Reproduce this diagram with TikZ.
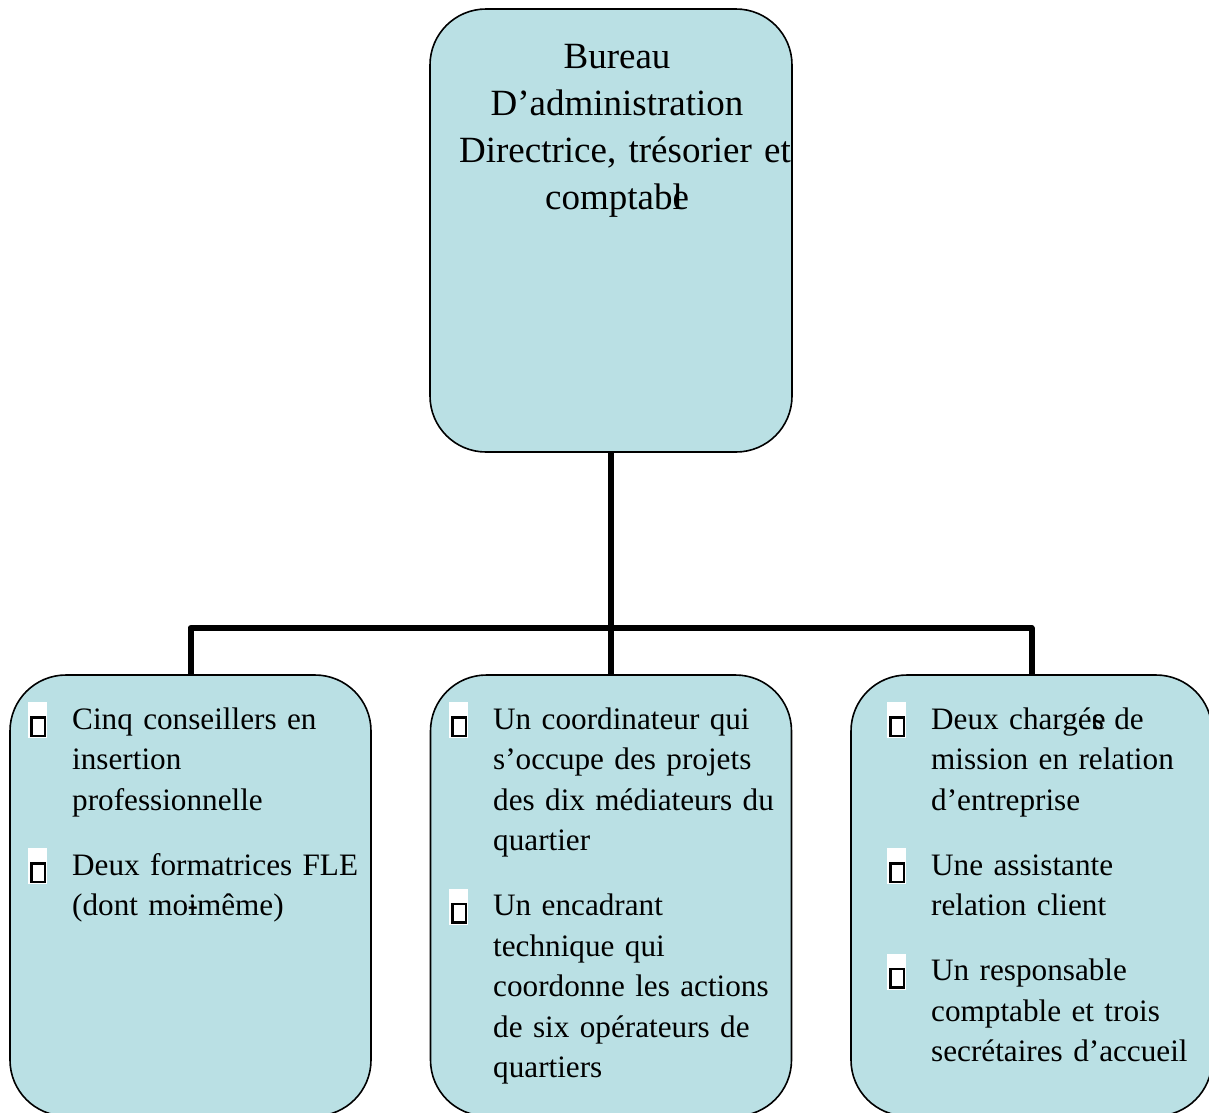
\documentclass[tikz,border=0pt]{standalone}
\usepackage{fontspec}
\setmainfont{Liberation Serif}

\definecolor{bleuboite}{RGB}{186,224,228}

% petite puce carree sur fond blanc
\newcommand{\puce}{\rlap{\textcolor{white}{\rule[-9pt]{19pt}{36pt}}}\hspace*{2pt}{\setlength{\fboxsep}{0pt}\setlength{\fboxrule}{2.5pt}\raisebox{-5.5pt}{\fbox{\rule{0pt}{16pt}\hspace*{11pt}}}}}
\newcommand{\entree}[1]{\hangindent=44pt\hangafter=1\noindent\makebox[44pt][l]{\puce}#1\par}

\begin{document}
\begin{tikzpicture}[x=1pt, y=-1pt,
    boite/.style={draw, line width=1.6pt, fill=bleuboite, rounded corners=56pt, inner sep=0pt},
    titre/.style={font={\fontsize{37}{47}\selectfont}, text width=360pt, align=center, inner sep=0pt},
    texte/.style={font={\fontsize{31.2}{40.5}\selectfont}, text width=345pt, inner sep=0pt,
        execute at begin node={\raggedright\setlength{\parskip}{24.5pt}}},
    lien/.style={line width=6pt, line join=round}]
    \useasboundingbox (0,0) rectangle (1209,1112);

    % Boites
    \node [boite, minimum width=362pt, minimum height=443pt] (haut) at (611,230.5) {};
    \node [boite, minimum width=361pt, minimum height=441pt] (gauche) at (190.5,895.5) {};
    \node [boite, minimum width=361pt, minimum height=441pt] (milieu) at (611,895.5) {};
    \node [boite, minimum width=361pt, minimum height=441pt] (droite) at (1031.5,895.5) {};

    % Liaisons
    \coordinate (jonction) at (611,628);
    \draw [lien] (haut.south) -- (milieu.north);
    \draw [lien] (gauche.north) |- (jonction) -| (droite.north);

    % Textes
    \node [titre, anchor=base] (texteH) at (617,68)
        {Bureau\\ D’administration\\ \hspace*{16pt}Directrice, trésorier et\\ comptab\rlap{l}e};
    \node [texte, anchor=base west] (texteG) at (28,729) {%
        \entree{Cinq conseillers en\newline insertion\newline professionnelle}
        \entree{Deux formatrices FLE\newline (dont mo\rlap{\kern-0.02em-}imême)}};
    \node [texte, anchor=base west] (texteM) at (449,729) {%
        \entree{Un coordinateur qui\newline s’occupe des projets\newline des dix médiateurs du\newline quartier}
        \entree{Un encadrant\newline technique qui\newline coordonne les actions\newline de six opérateurs de\newline quartiers}};
    \node [texte, anchor=base west] (texteD) at (887,729) {%
        \entree{Deux chargé\rlap{e}s de\newline mission en relation\newline d’entreprise}
        \entree{Une assistante\newline relation client}
        \entree{Un responsable\newline comptable et trois\newline secrétaires d’accueil}};
\end{tikzpicture}
\end{document}
